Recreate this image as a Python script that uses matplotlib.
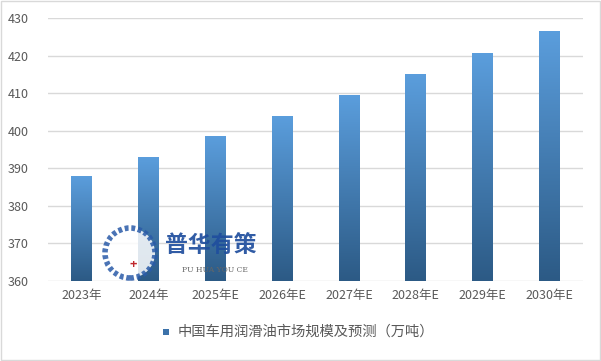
import numpy as np
import matplotlib
matplotlib.use("Agg")
import matplotlib.pyplot as plt
from matplotlib.colors import LinearSegmentedColormap
from matplotlib.patches import Rectangle, Circle

plt.rcParams['font.family'] = ['Noto Sans CJK SC', 'DejaVu Sans']

years = ["2023年", "2024年", "2025年E", "2026年E", "2027年E", "2028年E", "2029年E", "2030年E"]
values = [388.0, 393.1, 398.7, 404.0, 409.6, 415.2, 420.9, 426.7]
legend_label = "中国车用润滑油市场规模及预测（万吨）"

cmap = LinearSegmentedColormap.from_list("bar", ["#2C5A85", "#5B9EDD"])
grad = np.linspace(0, 1, 256).reshape(-1, 1)

fig = plt.figure(figsize=(6.01, 3.61), dpi=100)
ax = fig.add_axes([0.0799, 0.2216, 0.8902, 0.7272])

ymin, ymax = 360, 430
x = np.arange(len(years))
width = 0.31
bars = ax.bar(x, np.array(values) - ymin, width, bottom=ymin, color="none", zorder=2)
for b in bars:
    bx, by = b.get_x(), b.get_y()
    bw, bh = b.get_width(), b.get_height()
    im = ax.imshow(grad, cmap=cmap, origin="lower", aspect="auto",
                   extent=(bx, bx + bw, by, by + bh), zorder=2)
    im.set_clip_path(b)

ax.set_xlim(-0.5, len(years) - 0.5)
ax.set_ylim(ymin, ymax)
ax.set_yticks(range(360, 431, 10))
ax.set_xticks(x)
ax.set_xticklabels(years)
ax.grid(axis="y", color="#D9D9D9", linewidth=1)
ax.set_axisbelow(True)
for s in ax.spines.values():
    s.set_visible(False)
ax.tick_params(length=0, labelsize=9, colors="#595959", pad=6)
ax.tick_params(axis="y", pad=14)

# watermark
fig.text(0.2745, 0.321, "普华有策", fontsize=16.5, fontweight="bold", color="#1F4E9E",
         alpha=0.92, ha="left", va="center", zorder=5)
fig.text(0.358, 0.252, "PU HUA YOU CE", fontsize=5.5, color="#666666",
         family="DejaVu Serif", ha="center", va="center", zorder=5)
fig.add_artist(Circle((1.30, 1.08), 0.25, transform=fig.dpi_scale_trans, facecolor="white",
                      edgecolor="#2A5BA8", linewidth=4, linestyle=(0, (0.7, 0.5)),
                      alpha=0.85, zorder=4))
fig.text(0.221, 0.268, "+", fontsize=9, fontweight="bold", color="#C0282D",
         ha="center", va="center", zorder=5)

# legend
lx, ly = 0.271, 0.082
fig.add_artist(Rectangle((lx, ly - 0.011), 0.011, 0.019, transform=fig.transFigure,
                         facecolor="#3C72AA", edgecolor="none"))
fig.text(lx + 0.024, ly, legend_label, fontsize=10.3, color="#595959", va="center", ha="left")

fig.add_artist(Rectangle((0.001, 0.002), 0.997, 0.995, transform=fig.transFigure,
                         facecolor="none", edgecolor="#D9D9D9", linewidth=1))

fig.savefig("out.png", dpi=100)
